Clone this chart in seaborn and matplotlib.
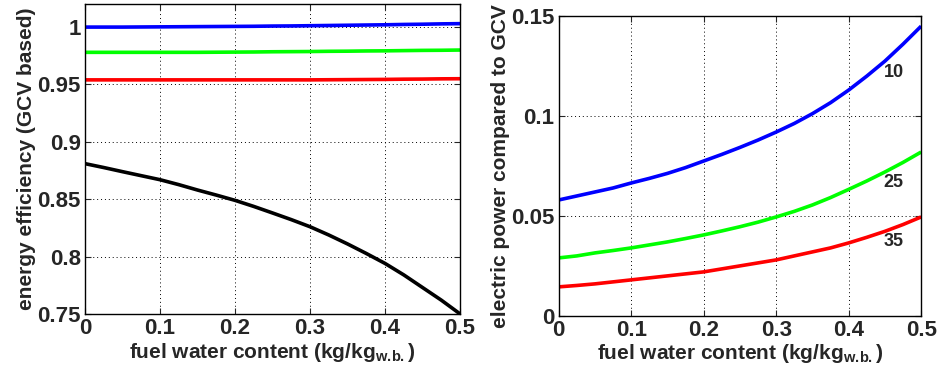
import numpy as np
import pandas as pd
import seaborn as sns
import matplotlib.pyplot as plt

# fuel water content (kg/kg w.b.)
water = [0, 0.025, 0.05, 0.075, 0.1, 0.125, 0.15, 0.175, 0.2, 0.225, 0.25,
         0.275, 0.3, 0.325, 0.35, 0.375, 0.4, 0.425, 0.45, 0.475, 0.5]

# left panel: energy efficiency (GCV based)
eff_blue = [1.000, 1.000, 1.000, 1.0001, 1.0002, 1.0003, 1.0004, 1.0005, 1.0006, 1.0007, 1.0009,
            1.001, 1.0012, 1.0014, 1.0016, 1.0018, 1.002, 1.0023, 1.0025, 1.0028, 1.003]
eff_green = [0.978, 0.978, 0.978, 0.978, 0.978, 0.978, 0.978, 0.9781, 0.9782, 0.9783, 0.9785,
             0.9786, 0.9787, 0.9789, 0.979, 0.9792, 0.9793, 0.9795, 0.9797, 0.9798, 0.980]
eff_red = [0.954, 0.954, 0.954, 0.954, 0.954, 0.954, 0.954, 0.954, 0.954, 0.954, 0.954,
           0.954, 0.954, 0.9541, 0.9542, 0.9543, 0.9544, 0.9546, 0.9547, 0.9549, 0.955]
eff_black = [0.881, 0.8776, 0.874, 0.8705, 0.867, 0.8627, 0.858, 0.8536, 0.849, 0.8437, 0.838,
             0.8322, 0.826, 0.8188, 0.811, 0.8027, 0.794, 0.784, 0.773, 0.762, 0.750]

# right panel: electric power compared to GCV
pow_10 = [0.058, 0.060, 0.062, 0.064, 0.0665, 0.0688, 0.0713, 0.0742, 0.0775, 0.0808, 0.0843,
          0.088, 0.092, 0.0963, 0.1012, 0.1067, 0.113, 0.120, 0.1275, 0.136, 0.145]
pow_25 = [0.029, 0.030, 0.0315, 0.0327, 0.034, 0.0355, 0.037, 0.0387, 0.0405, 0.0425, 0.0446,
          0.0469, 0.0495, 0.0523, 0.0555, 0.0592, 0.0633, 0.0675, 0.072, 0.0768, 0.082]
pow_35 = [0.0145, 0.0152, 0.016, 0.017, 0.018, 0.019, 0.020, 0.021, 0.022, 0.0235, 0.025,
          0.0265, 0.028, 0.030, 0.032, 0.034, 0.0365, 0.0393, 0.0423, 0.0457, 0.0495]
curve_labels = ["10", "25", "35"]
label_pos = [(0.462, 0.122), (0.462, 0.0665), (0.462, 0.037)]

sns.set_style("ticks")
plt.rcParams["font.family"] = ["Liberation Sans", "DejaVu Sans"]
plt.rcParams["font.weight"] = "bold"
plt.rcParams["mathtext.fontset"] = "custom"
plt.rcParams["mathtext.rm"] = "Liberation Sans:bold"
plt.rcParams["mathtext.bf"] = "Liberation Sans:bold"

fig = plt.figure(figsize=(9.39, 3.76), dpi=100)
ax1 = fig.add_axes([0.0905, 0.165, 0.3995, 0.824])
ax2 = fig.add_axes([0.595, 0.160, 0.386, 0.797])

n = len(water)
left = pd.DataFrame({
    "water": water * 4,
    "eff": eff_blue + eff_green + eff_red + eff_black,
    "case": ["b"] * n + ["g"] * n + ["r"] * n + ["k"] * n,
})
sns.lineplot(data=left, x="water", y="eff", hue="case",
             palette={"b": "#0000ff", "g": "#00ff00", "r": "#ff0000", "k": "black"},
             linewidth=2.6, legend=False, ax=ax1)

right = pd.DataFrame({
    "water": water * 3,
    "power": pow_10 + pow_25 + pow_35,
    "case": ["10"] * n + ["25"] * n + ["35"] * n,
})
sns.lineplot(data=right, x="water", y="power", hue="case",
             palette={"10": "#0000ff", "25": "#00ff00", "35": "#ff0000"},
             linewidth=2.6, legend=False, ax=ax2)

for lab, (x, y) in zip(curve_labels, label_pos):
    ax2.text(x, y, lab, fontsize=13, fontweight="bold", ha="center", va="center")

xlabel = r"fuel water content (kg/kg$_{\rm w.\!b.}$)"
ax1.set_xlim(0, 0.5)
ax1.set_ylim(0.75, 1.02)
ax1.set_yticks([0.75, 0.8, 0.85, 0.9, 0.95, 1.0])
ax1.set_yticklabels(["0.75", "0.8", "0.85", "0.9", "0.95", "1"])
ax1.set_ylabel("energy efficiency (GCV based)", fontsize=15, fontweight="bold", labelpad=1)

ax2.set_xlim(0, 0.5)
ax2.set_ylim(0, 0.15)
ax2.set_yticks([0, 0.05, 0.1, 0.15])
ax2.set_yticklabels(["0", "0.05", "0.1", "0.15"])
ax2.set_ylabel("electric power compared to GCV", fontsize=15, fontweight="bold", labelpad=1)

for ax in (ax1, ax2):
    ax.set_xticks([0, 0.1, 0.2, 0.3, 0.4, 0.5])
    ax.set_xticklabels(["0", "0.1", "0.2", "0.3", "0.4", "0.5"])
    ax.set_xlabel(xlabel, fontsize=15, fontweight="bold", labelpad=1)
    ax.grid(True, linestyle=(0, (1, 3)), color="black", linewidth=0.7)
    ax.tick_params(direction="in", top=True, right=True, length=4, width=0.8,
                   labelsize=16, pad=3)
    for s in ax.spines.values():
        s.set_visible(True)
        s.set_color("black")
        s.set_linewidth(1.0)
    for line in ax.lines:
        line.set_solid_joinstyle("round")
        line.set_solid_capstyle("butt")

fig.savefig("out.png", dpi=100)
